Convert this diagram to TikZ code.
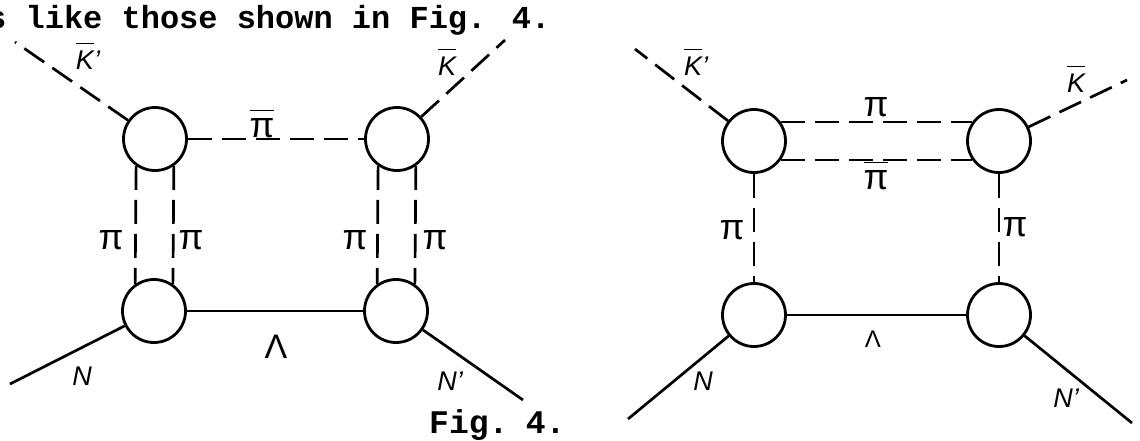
\documentclass[tikz,border=0pt]{standalone}
\usepackage{fontspec}
\setsansfont{Liberation Sans}
\newfontfamily\typew{Liberation Mono}
\begin{document}
\begin{tikzpicture}[x=1pt,y=-1pt,
  vtx/.style={circle,draw,line width=2.8pt,minimum size=63pt,inner sep=0pt},
  prop/.style={line width=2.7pt},
  scal/.style={line width=2.7pt,dash pattern=on 24pt off 10pt},
  lab/.style={font=\sffamily\itshape\fontsize{27}{27}\selectfont,inner sep=0pt},
  pil/.style={font=\sffamily\fontsize{36}{36}\selectfont,inner sep=0pt},
  txt/.style={font=\typew\bfseries\fontsize{32}{32}\selectfont,inner sep=0pt,anchor=base west}]
\useasboundingbox (0,0) rectangle (1140,440);
\newcommand\kbar[1]{\ensuremath{\overline{\hbox{\rule{0pt}{0.95em}#1}}}}
\newcommand\pibar[1]{\ensuremath{\overline{\hbox{\rule{0pt}{0.72em}#1}}}}
% header text
\node[txt] (head) at (-13,28) {s like those shown in Fig. 4.};
\node[txt,font=\typew\bfseries\fontsize{33}{33}\selectfont] (cap) at (429,433) {Fig.\hspace{-9pt} 4.};
% ---------- left diagram ----------
\node[vtx] (a1) at (155,139) {};
\node[vtx] (a2) at (397,139) {};
\node[vtx] (a3) at (154,311) {};
\node[vtx] (a4) at (396,311) {};
\coordinate (a1k) at (15,42);
\coordinate (a2k) at (505,40);
\coordinate (a3n) at (10,384);
\coordinate (a4n) at (523,400);
\draw[scal] (a1) -- (a1k);
\draw[scal] (a2) -- (a2k);
\draw[scal] (a1) -- (a2);
\draw[scal] (a1.235) -- (a3.125);
\draw[scal] (a1.305) -- (a3.55);
\draw[scal] (a2.235) -- (a4.125);
\draw[scal] (a2.305) -- (a4.55);
\draw[prop] (a3) -- (a4);
\draw[prop] (a3) -- (a3n);
\draw[prop] (a4) -- (a4n);
\node[lab] (la1) at (88,56) {\kbar{K}'};
\node[lab] (la2) at (447,62) {\kbar{K}};
\node[pil] (la3) at (262,124) {\pibar{π}};
\node[pil] (la4) at (111,240) {π};
\node[pil] (la5) at (191,240) {π};
\node[pil] (la6) at (355,240) {π};
\node[pil] (la7) at (435,240) {π};
\node[lab,font=\sffamily\fontsize{34}{34}\selectfont] (la8) at (276,347) {Λ};
\node[lab] (la9) at (82,376) {N};
\node[lab] (la10) at (450,381) {N'};
% ---------- right diagram ----------
\node[vtx] (b1) at (754,141) {};
\node[vtx] (b2) at (999,141) {};
\node[vtx] (b3) at (754,315) {};
\node[vtx] (b4) at (999,315) {};
\coordinate (b1k) at (635,49);
\coordinate (b2k) at (1127,80);
\coordinate (b3n) at (628,419);
\coordinate (b4n) at (1132,423);
\draw[scal] (b1) -- (b1k);
\draw[scal] (b2) -- (b2k);
\draw[scal] (b1.35) -- (b2.145);
\draw[scal] (b1.-35) -- (b2.-145);
\draw[scal] (b1) -- (b3);
\draw[scal] (b2) -- (b4);
\draw[prop] (b3) -- (b4);
\draw[prop] (b3) -- (b3n);
\draw[prop] (b4) -- (b4n);
\node[lab] (lb1) at (696,62) {\kbar{K}'};
\node[lab] (lb2) at (1076,79) {\kbar{K}};
\node[pil] (lb3) at (876,107) {π};
\node[pil] (lb4) at (876,176) {\pibar{π}};
\node[pil] (lb5) at (732,230) {π};
\node[pil] (lb6) at (1015,227) {π};
\node[lab,font=\sffamily\fontsize{24}{24}\selectfont] (lb7) at (873,339) {Λ};
\node[lab] (lb8) at (703,381) {N};
\node[lab] (lb9) at (1066,398) {N'};
\end{tikzpicture}
\end{document}
